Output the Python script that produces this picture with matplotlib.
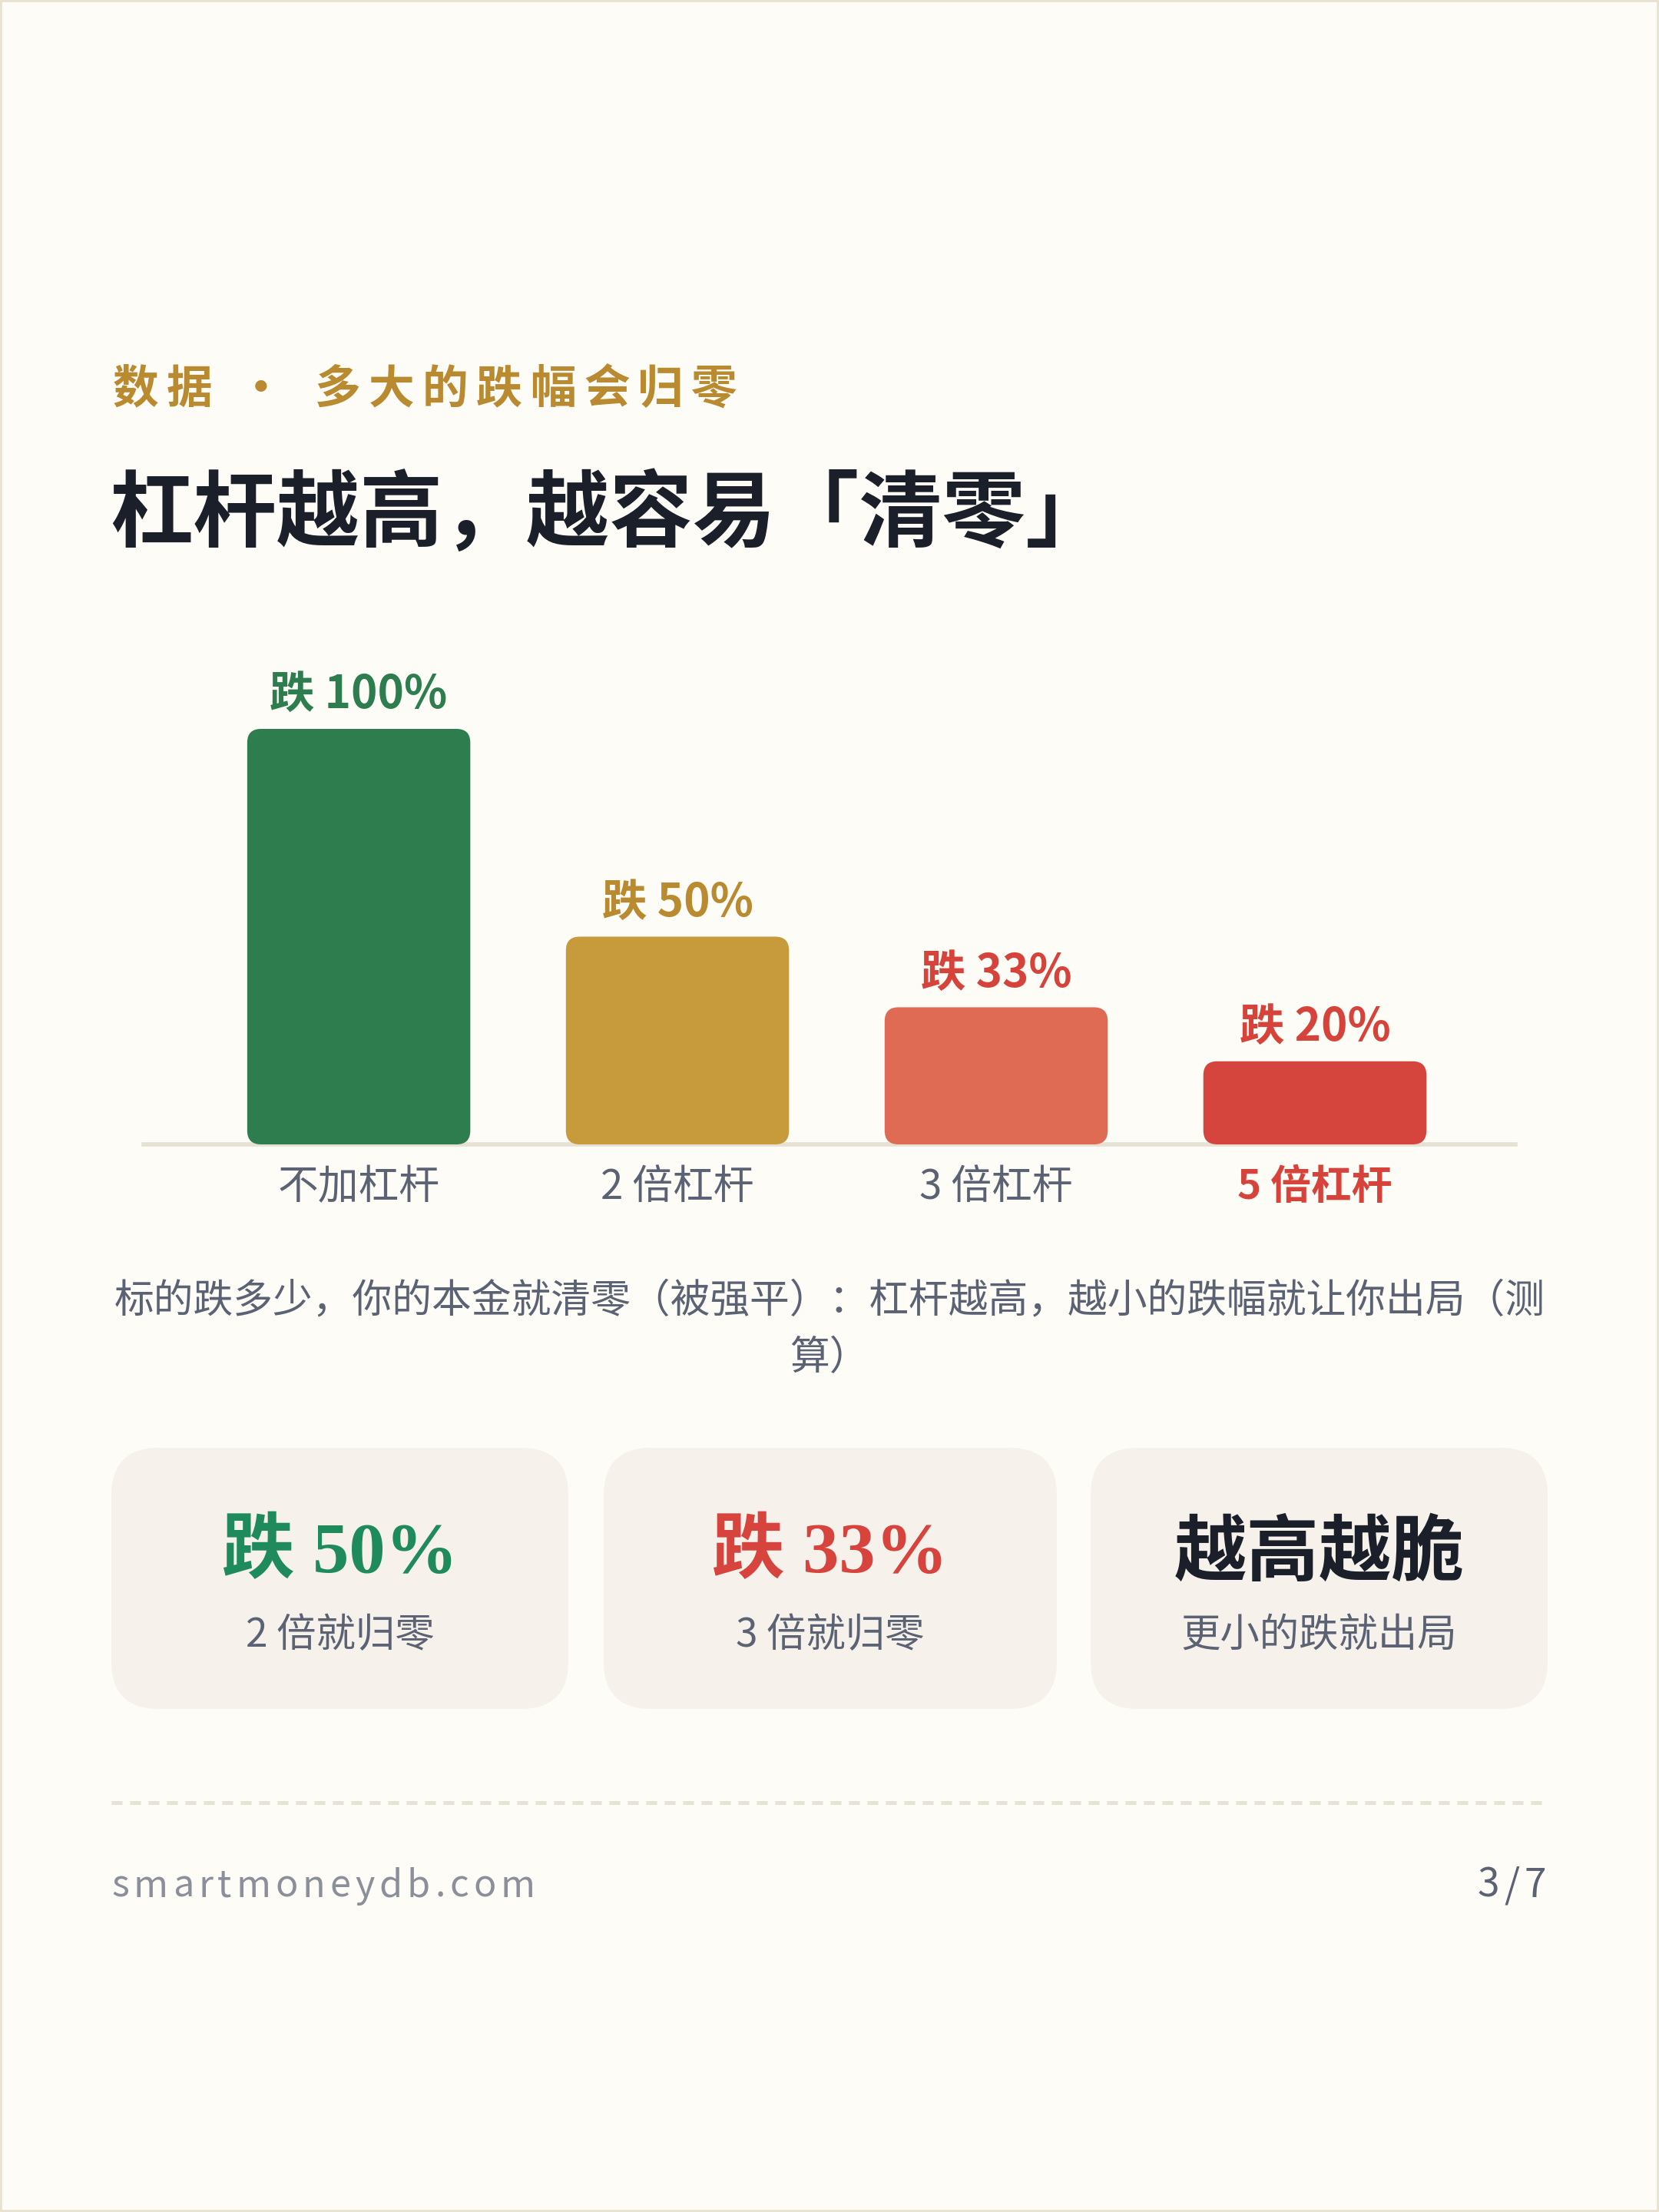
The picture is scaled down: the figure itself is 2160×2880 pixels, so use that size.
import matplotlib
matplotlib.use('Agg')
import matplotlib.pyplot as plt
import matplotlib.patches as pth

W, H = 2160, 2880

categories = ['不加杠杆', '2 倍杠杆', '3 倍杠杆', '5 倍杠杆']
drops = [100, 50, 33, 20]
barLabels = ['跌 100%', '跌 50%', '跌 33%', '跌 20%']
barColors = ['#2e7d4f', '#c79a3b', '#df6b55', '#d5453e']
labelColors = ['#2e7d4f', '#b98a2f', '#d6433b', '#d6433b']
catColors = ['#5b6273', '#5b6273', '#5b6273', '#d6433b']
catWeights = ['normal', 'normal', 'normal', 'bold']

kicker = '数据·多大的跌幅会归零'
title = '杠杆越高，越容易「清零」'
caption = ['标的跌多少，你的本金就清零（被强平）：杠杆越高，越小的跌幅就让你出局（测',
           '算）']

cardTitles = ['跌 50%', '跌 33%', '越高越脆']
cardNotes = ['2 倍就归零', '3 倍就归零', '更小的跌就出局']
cardColors = ['#1f8a5c', '#d6443d', '#1b1f2a']

site = 'smartmoneydb.com'
page = '3/7'

CJK = ['Noto Sans CJK SC', 'DejaVu Sans']
SERIF = ['Liberation Serif', 'Noto Sans CJK SC']
plt.rcParams['font.family'] = CJK
BG = '#fdfcf7'
GRAY = '#5b6273'


def fx(x):
    return x / W


def fy(y):
    return 1 - y / H


def spaced(text, x, y, size, color, spacing, align='left'):
    # matplotlib has no letter spacing, so lay the characters out by hand
    renderer = fig.canvas.get_renderer()
    prop = matplotlib.font_manager.FontProperties(family=CJK, size=size)

    def width(s):
        return renderer.get_text_width_height_descent(s, prop, False)[0] \
            if s else 0
    if align == 'right':
        x = x - width(text) - spacing*(len(text) - 1)
    for k, ch in enumerate(text):
        fig.text(fx(x + width(text[:k]) + k*spacing), fy(y), ch,
                 fontsize=size, color=color, ha='left', va='baseline')


fig = plt.figure(figsize=(W/100, H/100), dpi=100, facecolor=BG)

# page border
fig.patches.append(pth.Rectangle((0, 0), 1, 1, transform=fig.transFigure,
                                 fill=False, edgecolor='#e7e1cf', linewidth=4))

# kicker, fixed pitch per character
kx = [147, 217, None, 410, 480, 550, 620, 690, 760, 830, 900]
for ch, x in zip(kicker, kx):
    if ch == '·':
        fig.text(fx(340), fy(508), ch, fontsize=43, color='#b98a2f',
                 weight='bold', ha='center', va='center')
    else:
        fig.text(fx(x), fy(508), ch, fontsize=43, color='#b98a2f',
                 weight='bold', ha='left', va='center')

fig.text(fx(143), fy(671), title, fontsize=78, color='#1b1f2a',
         weight='bold', ha='left', va='center')

# bar chart
left, right, base, top = 187, 1973, 1490, 900
ax = fig.add_axes([fx(left), fy(base), fx(right - left), (base - top)/H])
ax.set_facecolor('none')
ax.set_xlim(-0.675, 3.629)
ax.set_ylim(0, 100 * (base - top) / (base - 949))
for s in ax.spines.values():
    s.set_visible(False)
ax.set_xticks([])
ax.set_yticks([])

bars = ax.bar(range(len(drops)), drops, width=0.70, color=barColors)
xPerPx = (3.629 + 0.675) / (right - left)
yPerPx = ax.get_ylim()[1] / (base - top)
for bar, color in zip(bars, barColors):
    x0, y0 = bar.get_x(), bar.get_y()
    w, h = bar.get_width(), bar.get_height()
    bar.set_visible(False)
    ax.add_patch(pth.FancyBboxPatch(
        (x0, y0), w, h, boxstyle=f'round,pad=0,rounding_size={18*xPerPx}',
        mutation_aspect=yPerPx/xPerPx, facecolor=color, edgecolor='none'))

for i, (v, lab, c) in enumerate(zip(drops, barLabels, labelColors)):
    ax.annotate(lab, (i, v), xytext=(0, 10), textcoords='offset points',
                ha='center', va='bottom', fontsize=42, weight='bold', color=c)

ax.axhline(0, color='#e6e1d3', linewidth=4, zorder=0, clip_on=False)

for i, (cat, c, wt) in enumerate(zip(categories, catColors, catWeights)):
    ax.annotate(cat, (i, 0), xytext=(0, -40), textcoords='offset points',
                ha='center', va='center', fontsize=38, color=c, weight=wt,
                annotation_clip=False)

# caption
for k, line in enumerate(caption):
    fig.text(0.5, fy(1694 + 74*k), line, fontsize=37.3, color=GRAY,
             ha='center', va='center')

# cards
cardX = [(145, 740), (786, 1376), (1420, 2015)]
for (x0, x1), t, note, c in zip(cardX, cardTitles, cardNotes, cardColors):
    fig.patches.append(pth.FancyBboxPatch(
        (fx(x0), fy(2225)), fx(x1 - x0), (2225 - 1885)/H,
        boxstyle=f'round,pad=0,rounding_size={62/W}',
        mutation_aspect=W/H, transform=fig.transFigure,
        facecolor='#f6f2eb', edgecolor='none'))
    cx = fx((x0 + x1)/2)
    fam = SERIF if any(ch.isdigit() for ch in t) else CJK
    fig.text(cx, fy(2023), t, fontsize=68, color=c, weight='bold',
             family=fam, ha='center', va='center')
    fig.text(cx, fy(2129), note, fontsize=37, color=GRAY,
             ha='center', va='center')

# dashed rule
fig.add_artist(plt.Line2D([fx(145), fx(2013)], [fy(2347), fy(2347)],
                          color='#e8e2d4', linewidth=3.6,
                          linestyle=(0, (2.8, 2.0))))

spaced(site, 145, 2470, 35, '#8b8f9a', 6)
spaced(page, 2013, 2470, 37, GRAY, 6, align='right')

fig.savefig('out.png', dpi=100, facecolor=BG)
